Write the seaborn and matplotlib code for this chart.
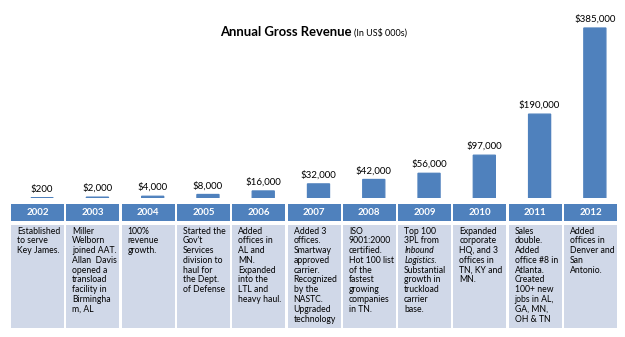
import matplotlib
matplotlib.use("Agg")
import matplotlib.pyplot as plt
import seaborn as sns
import pandas as pd
from matplotlib.patches import Rectangle

years = ["2002", "2003", "2004", "2005", "2006", "2007", "2008", "2009", "2010", "2011", "2012"]
revenue = [200, 2000, 4000, 8000, 16000, 32000, 42000, 56000, 97000, 190000, 385000]
notes = [
    ["Established", "to serve", "Key James."],
    ["Miller", "Welborn", "joined AAT.", "Allan  Davis", "opened a", "transload", "facility in", "Birmingha", "m, AL"],
    ["100%", "revenue", "growth."],
    ["Started the", "Gov't", "Services", "division to", "haul for", "the Dept.", "of Defense"],
    ["Added", "offices in", "AL and", "MN.", "Expanded", "into the", "LTL and", "heavy haul."],
    ["Added 3", "offices.", "Smartway", "approved", "carrier.", "Recognized", "by the", "NASTC.", "Upgraded", "technology"],
    ["ISO", "9001:2000", "certified.", "Hot 100 list", "of the", "fastest", "growing", "companies", "in TN."],
    ["Top 100", "3PL from", "Inbound", "Logistics.", "Substantial", "growth in", "truckload", "carrier", "base."],
    ["Expanded", "corporate", "HQ, and 3", "offices in", "TN, KY and", "MN."],
    ["Sales", "double.", "Added", "office #8 in", "Atlanta.", "Created", "100+ new", "jobs in AL,", "GA, MN,", "OH & TN"],
    ["Added", "offices in", "Denver and", "San", "Antonio."],
]
italic_lines = {(7, 2), (7, 3)}
title = "Annual Gross Revenue"
subtitle = "(In US$ 000s)"

BLUE = "#4F81BD"
LIGHT = "#D0D8E8"

sns.set_theme(style="white")
plt.rcParams["font.family"] = ["Liberation Sans Narrow", "Lato", "DejaVu Sans"]

W, H = 625, 337
fig = plt.figure(figsize=(W / 100, H / 100), dpi=100)

def fr(x0, y0, x1, y1):
    return [x0 / W, 1 - y1 / H, (x1 - x0) / W, (y1 - y0) / H]

# bar axes
ax = fig.add_axes(fr(14.5, 0, 622.5, 198))
df = pd.DataFrame({"year": years, "revenue": revenue})
sns.barplot(data=df, x="year", y="revenue", color=BLUE, width=0.4, ax=ax,
            saturation=1, edgecolor=BLUE, linewidth=0.9)
for p in ax.patches:
    p.set_snap(False)
ax.set_xlim(-0.5, len(years) - 0.5)
ax.set_ylim(0, max(revenue) * 198 / 170)
ax.bar_label(ax.containers[0], labels=[f"${v:,}" for v in revenue], padding=3,
             fontsize=7, color="black")
ax.axis("off")

# table axes
tx = fig.add_axes(fr(11, 200, 619, 337))
tx.set_xlim(0, 608)
tx.set_ylim(337, 200)
tx.axis("off")
pitch = 55.3
cw = 53
for i, yr in enumerate(years):
    left = i * pitch
    tx.add_patch(Rectangle((left, 204), cw, 17, facecolor=BLUE, edgecolor="none"))
    tx.text(left + cw / 2, 212.8, yr, ha="center", va="center", color="white",
            fontsize=7, fontweight="bold")
    tx.add_patch(Rectangle((left, 225), cw, 103, facecolor=LIGHT, edgecolor="none"))
    for j, line in enumerate(notes[i]):
        tx.text(left + 6, 231 + j * 9.8, line, ha="left", va="center", color="black",
                fontsize=6.2, style="italic" if (i, j) in italic_lines else "normal")

# title
t1 = fig.text(220 / W, 1 - 32 / H, title, ha="left", va="center", fontsize=9.4,
              fontweight="bold", color="black")
fig.canvas.draw()
bb = t1.get_window_extent(fig.canvas.get_renderer())
fig.text((bb.x1 + 3) / W, 1 - 32.5 / H, subtitle, ha="left", va="center",
         fontsize=6.5, color="black")

fig.savefig("out.png", dpi=100)
